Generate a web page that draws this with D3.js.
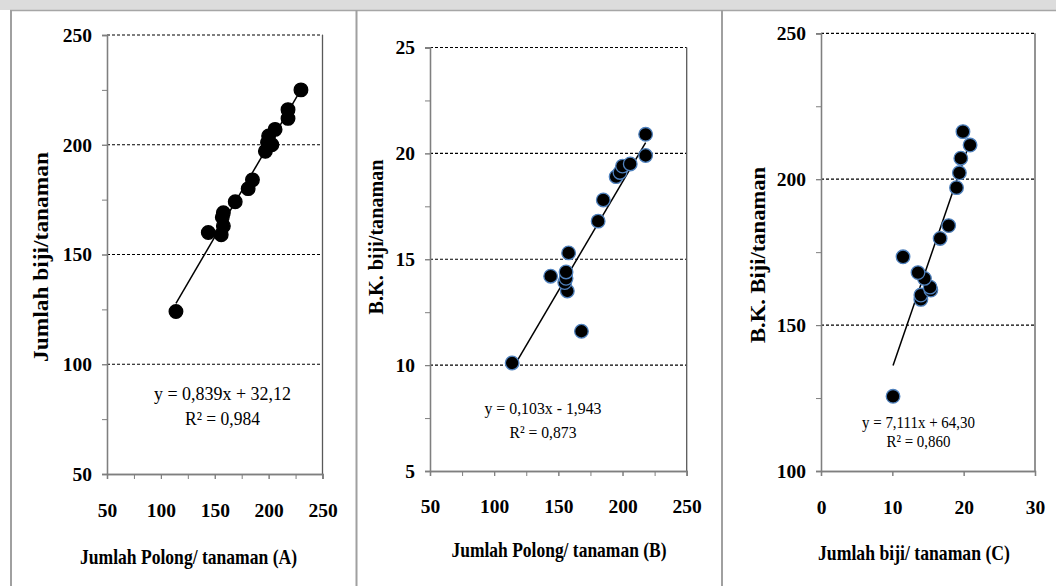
<!DOCTYPE html>
<html><head><meta charset="utf-8">
<script src="https://cdn.jsdelivr.net/npm/d3@7"></script>
<style>
html,body{margin:0;padding:0;background:#fff;}
svg{display:block;}
</style></head>
<body>
<svg id="chart" width="1056" height="586"></svg>
<script>
// ---------- DATA ----------
// Panel A: Jumlah Polong/tanaman vs Jumlah biji/tanaman
const aPolong = [114,144,156,158,157,158,169,181,185,197,199,203,200,206,218,218,230];
const aBiji   = [124,160,159,163,167,169,174,180,184,197,201,200,204,207,212,216,225];
const aXTicks = [50,100,150,200,250];
const aYTicks = [50,100,150,200,250];
const aEq = ["y = 0,839x + 32,12", "R² = 0,984"];
const aFit = [0.839, 32.12];

// Panel B: Jumlah Polong/tanaman vs B.K. biji/tanaman
const bPolong = [114,168,157,155,156,156,144,158,181,185,195,198,200,206,218,218];
const bBK     = [10.1,11.6,13.5,13.9,14.1,14.4,14.2,15.3,16.8,17.8,18.9,19.1,19.4,19.5,19.9,20.9];
const bXTicks = [50,100,150,200,250];
const bYTicks = [5,10,15,20,25];
const bEq = ["y = 0,103x - 1,943", "R² = 0,873"];
const bFit = [0.103, -1.943];

// Panel C: Jumlah biji/tanaman vs B.K. Biji/tanaman
const cBiji = [10.1,14.0,14.0,15.4,15.3,14.5,13.6,11.5,16.7,17.9,19.0,19.4,19.6,19.9,20.9];
const cBK   = [125.6,158.8,160.3,162,163,166,168,173.4,179.7,184.1,197.1,202.2,207.2,216.3,211.7];
const cXTicks = [0,10,20,30];
const cYTicks = [100,150,200,250];
const cEq = ["y = 7,111x + 64,30", "R² = 0,860"];
const cFit = [7.111, 64.30];

const xTitles = ["Jumlah Polong/ tanaman (A)", "Jumlah Polong/ tanaman (B)", "Jumlah biji/ tanaman (C)"];
const yTitles = ["Jumlah  biji/tanaman", "B.K. biji/tanaman", "B.K. Biji/tanaman"];

// ---------- LAYOUT ----------
const svg = d3.select("#chart");
const SERIF = "'Liberation Serif','Times New Roman',serif";

// background frame
svg.append("rect").attr("x",0).attr("y",0).attr("width",1056).attr("height",10).attr("fill","#dcdcdc");
svg.append("line").attr("x1",10).attr("x2",1056).attr("y1",10.5).attr("y2",10.5).attr("stroke","#a6a6a6").attr("stroke-width",1.5);
[11, 356.5, 722].forEach(x=>{
  svg.append("line").attr("x1",x).attr("x2",x).attr("y1",10).attr("y2",586)
     .attr("stroke","#a0a0a0").attr("stroke-width",2);
});

const panels = [
  {xs:aPolong, ys:aBiji, xt:aXTicks, yt:aYTicks, eq:aEq, fit:aFit, xMinor:25, yMinor:25,
   L:107, R:322.5, T:35, B:474, pad:25,
   yTitle:{x:48, y:257, len:210}, xTitle:{x:188.5, y:564, len:217},
   eqPos:{x:222.5, y1:400, y2:425, l1:137, l2:75}, outline:"#000", xTitleIdx:0},
  {xs:bPolong, ys:bBK, xt:bXTicks, yt:bYTicks, eq:bEq, fit:bFit, xMinor:25, yMinor:2.5,
   L:430, R:686.7, T:47.5, B:471, pad:24,
   yTitle:{x:383, y:237, len:155}, xTitle:{x:559, y:556.5, len:215},
   eqPos:{x:543, y1:414, y2:438, l1:117, l2:67}, outline:"#4f81bd", xTitleIdx:1},
  {xs:cBiji, ys:cBK, xt:cXTicks, yt:cYTicks, eq:cEq, fit:cFit, xMinor:10, yMinor:25,
   L:821, R:1035, T:33.3, B:471, pad:25,
   yTitle:{x:765, y:255, len:176}, xTitle:{x:914, y:560, len:192},
   eqPos:{x:918.5, y1:428, y2:447, l1:113, l2:64}, outline:"#4f81bd", xTitleIdx:2}
];

panels.forEach((p,i)=>{
  const xDom = d3.extent(p.xt), yDom = d3.extent(p.yt);
  const x = d3.scaleLinear().domain(xDom).range([p.L,p.R]);
  const y = d3.scaleLinear().domain(yDom).range([p.B,p.T]);
  const g = svg.append("g");

  // gridlines (dashed) at major y ticks above min
  g.selectAll(".grid").data(p.yt.filter(v=>v>yDom[0])).join("line")
    .attr("x1",p.L).attr("x2",p.R).attr("y1",d=>y(d)).attr("y2",d=>y(d))
    .attr("stroke","#000").attr("stroke-width",1.2).attr("stroke-dasharray","3,2");

  // right border
  g.append("line").attr("x1",p.R).attr("x2",p.R).attr("y1",p.T).attr("y2",p.B)
    .attr("stroke","#595959").attr("stroke-width",1.3);

  // minor ticks
  const xMin = d3.range(xDom[0], xDom[1]+1e-9, p.xMinor);
  const yMin = d3.range(yDom[0], yDom[1]+1e-9, p.yMinor);
  const axX = g.append("g").attr("transform",`translate(0,${p.B})`)
    .call(d3.axisBottom(x).tickValues(xMin).tickSize(5).tickFormat(""));
  const axY = g.append("g").attr("transform",`translate(${p.L},0)`)
    .call(d3.axisLeft(y).tickValues(yMin).tickSize(5).tickFormat(""));
  // major labels
  const lx = g.append("g").attr("transform",`translate(0,${p.B})`)
    .call(d3.axisBottom(x).tickValues(p.xt).tickSize(5).tickPadding(p.pad-1).tickFormat(d3.format("d")));
  const ly = g.append("g").attr("transform",`translate(${p.L},0)`)
    .call(d3.axisLeft(y).tickValues(p.yt).tickSize(5).tickPadding(10).tickFormat(d3.format("d")));
  [axX,axY,lx,ly].forEach(a=>{
    a.selectAll("path.domain").attr("stroke","#7f7f7f").attr("stroke-width",1.3);
    a.selectAll(".tick line").attr("stroke","#7f7f7f").attr("stroke-width",1);
    a.selectAll(".tick text").attr("fill","#000").attr("font-family",SERIF)
      .attr("font-weight","bold").attr("font-size",19.5);
  });

  // trend line over data range
  const [m,c] = p.fit;
  const ex = d3.extent(p.xs);
  g.append("line").attr("x1",x(ex[0])).attr("y1",y(m*ex[0]+c))
    .attr("x2",x(ex[1])).attr("y2",y(m*ex[1]+c))
    .attr("stroke","#000").attr("stroke-width",1.5);

  // points
  g.selectAll("circle").data(p.xs.map((v,k)=>[v,p.ys[k]])).join("circle")
    .attr("cx",d=>x(d[0])).attr("cy",d=>y(d[1])).attr("r",6.8)
    .attr("fill","#000").attr("stroke",p.outline).attr("stroke-width",1.3);

  // equation
  const e = p.eqPos;
  [[p.eq[0],e.y1,e.l1],[p.eq[1],e.y2,e.l2]].forEach(([t,yy,len])=>{
    g.append("text").attr("x",e.x).attr("y",yy).attr("text-anchor","middle")
      .attr("font-family",SERIF).attr("font-size",i===0?19:17.5).attr("fill","#000")
      .attr("textLength",len).attr("lengthAdjust","spacingAndGlyphs").text(t);
  });

  // axis titles
  g.append("text").attr("x",p.xTitle.x).attr("y",p.xTitle.y).attr("text-anchor","middle")
    .attr("font-family",SERIF).attr("font-weight","bold").attr("font-size",21)
    .attr("textLength",p.xTitle.len).attr("lengthAdjust","spacingAndGlyphs")
    .text(xTitles[p.xTitleIdx]);
  g.append("text").attr("transform",`translate(${p.yTitle.x},${p.yTitle.y}) rotate(-90)`)
    .attr("text-anchor","middle")
    .attr("font-family",SERIF).attr("font-weight","bold").attr("font-size",20)
    .attr("textLength",p.yTitle.len).attr("lengthAdjust","spacingAndGlyphs")
    .text(yTitles[i]);
});
</script>
</body></html>
